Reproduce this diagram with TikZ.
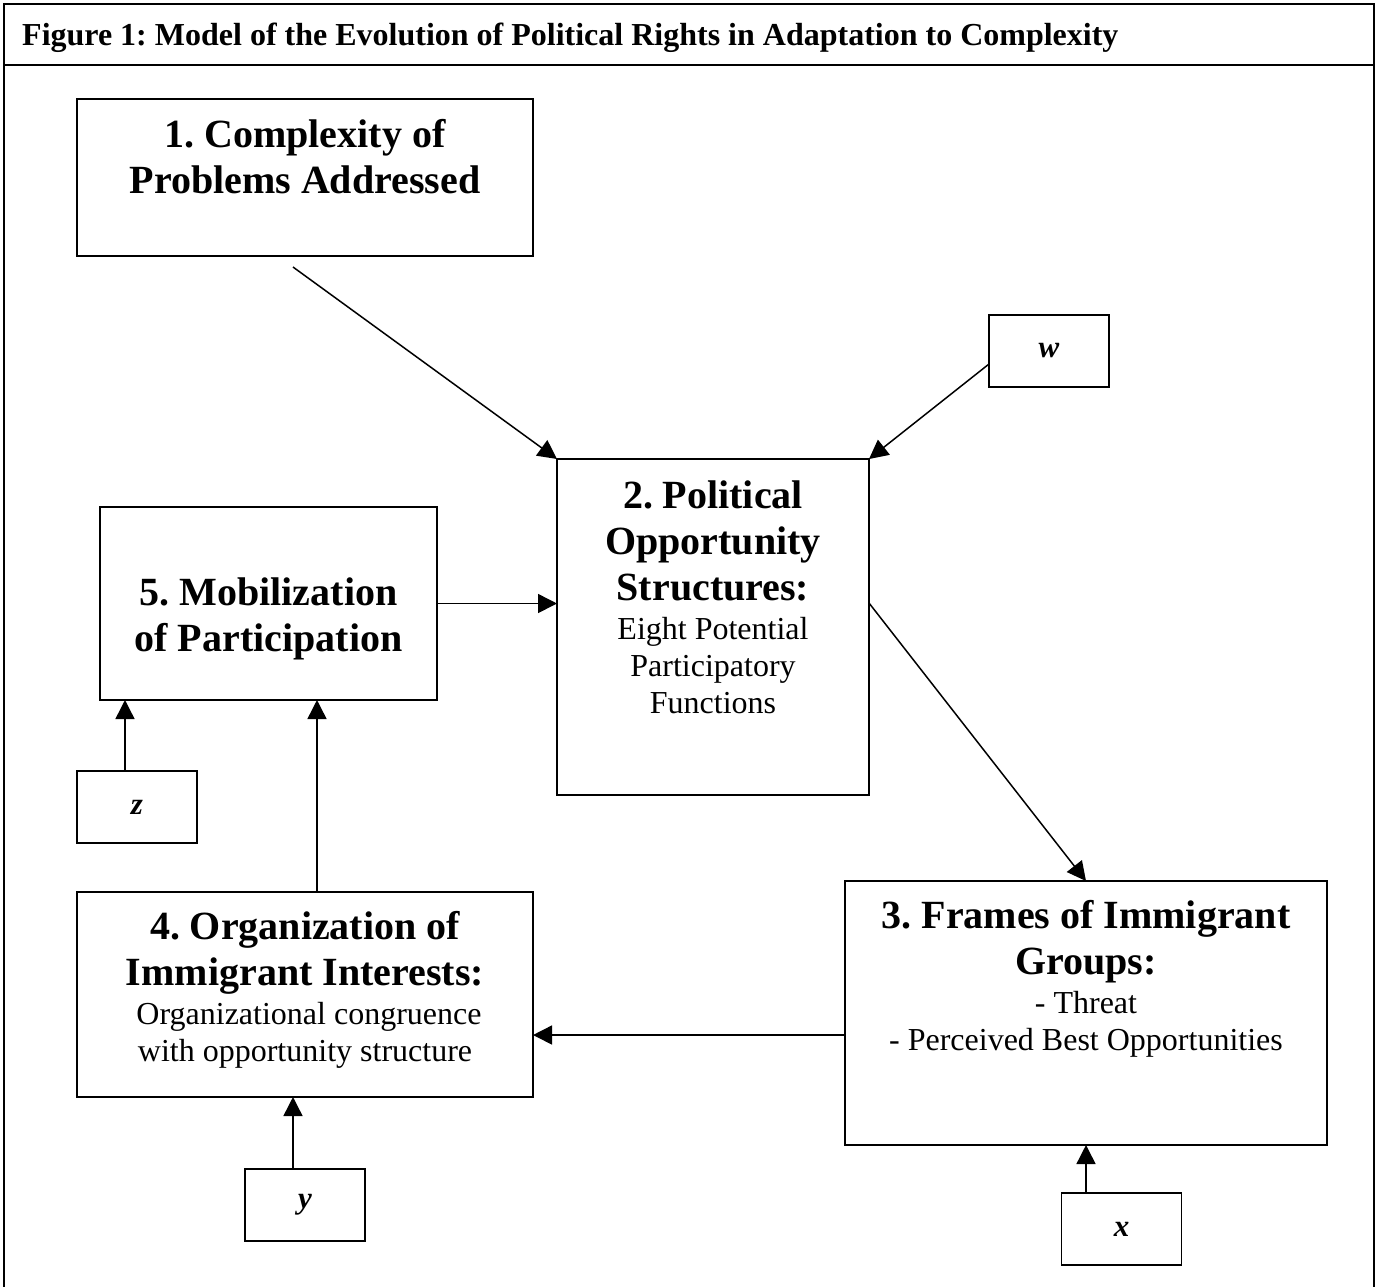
\documentclass[tikz,border=0pt]{standalone}
\usepackage{fontspec}
\setmainfont{Liberation Serif}
\usetikzlibrary{arrows.meta,calc}
\newcommand\mynormal{\fontsize{32}{37}\selectfont\mdseries}
\frenchspacing
\begin{document}
\frenchspacing
\begin{tikzpicture}[x=1pt,y=-1pt,
  box/.style={draw, line width=1.8pt, rectangle, inner sep=0pt, outer sep=0pt},
  heading/.style={inner sep=0pt, align=center, anchor=north, font=\fontsize{40}{46}\selectfont\bfseries\frenchspacing},
  var/.style={box, minimum width=120pt, minimum height=72pt, font=\fontsize{31}{36}\selectfont\bfseries\itshape},
  arr/.style={line width=1.5pt, -{Triangle[length=19pt,width=19pt]}},
  frameline/.style={line width=2.4pt}]
\useasboundingbox (0,0) rectangle (1380,1286);
% outer frame and title
\draw[frameline] (4,1300) -- (4,4) -- (1374,4) -- (1374,1300);
\draw[frameline] (4,65) -- (1374,65);
\node[anchor=base west, inner sep=0pt, font=\fontsize{32}{38}\selectfont\bfseries\frenchspacing] (title) at (22,45)
  {Figure 1: Model of the Evolution of Political Rights in Adaptation to Complexity};
% boxes
\node[box, minimum width=456pt, minimum height=157pt] (b1) at (305,177.5) {};
\node[box, minimum width=312pt, minimum height=336pt] (b2) at (713,627) {};
\node[box, minimum width=482pt, minimum height=264pt] (b3) at (1086,1013) {};
\node[box, minimum width=456pt, minimum height=205pt] (b4) at (305,994.5) {};
\node[box, minimum width=337pt, minimum height=193pt] (b5) at (268.5,603.5) {};
\node[var] (bw) at (1049,351) {w};
\node[var] (bz) at (137,807) {z};
\node[var] (by) at (305,1205) {y};
\node[var] (bx) at (1121.5,1229) {x};
% box texts
\node[heading] (t1) at (305,117) {\rule{0pt}{30pt}1. Complexity of\\Problems Addressed};
\node[heading] (t2) at (713,478) {\rule{0pt}{30pt}2. Political\\Opportunity\\Structures:\\[-7pt]
  \mynormal Eight Potential\\[-9pt]\mynormal Participatory\\[-9pt]\mynormal Functions};
\node[heading] (t3) at (1086,898) {\rule{0pt}{30pt}3. Frames of Immigrant\\Groups:\\[-7pt]
  \mynormal - Threat\\[-9pt]\mynormal - Perceived Best Opportunities};
\node[heading] (t4) at (305,909) {\rule{0pt}{30pt}4. Organization of\\Immigrant Interests:\\[-7pt]
  \mynormal \ Organizational congruence\\[-9pt]\mynormal with opportunity structure};
\node[heading] (t5) at (268.5,575) {\rule{0pt}{30pt}5. Mobilization\\of Participation};
% connectors
\coordinate (s1) at (293,267);
\draw[arr] (s1) -- (b2.north west);
\coordinate (sw) at (989,364);
\draw[arr] (sw) -- (b2.north east);
\draw[arr] (b5.east) -- (b5.east -| b2.west);
\coordinate (s23) at (869,603);
\draw[arr] (s23) -- (b3.north);
\coordinate (s34) at (845,1035);
\draw[arr] (s34) -- (s34 -| b4.east);
\coordinate (x45) at (317,0);
\draw[arr] (b4.north -| x45) -- (b5.south -| x45);
\coordinate (xz) at (125,0);
\draw[arr] (bz.north -| xz) -- (b5.south -| xz);
\coordinate (xy) at (293,0);
\draw[arr] (by.north -| xy) -- (b4.south -| xy);
\draw[arr] (bx.north -| b3.south) -- (b3.south);
\end{tikzpicture}
\end{document}
